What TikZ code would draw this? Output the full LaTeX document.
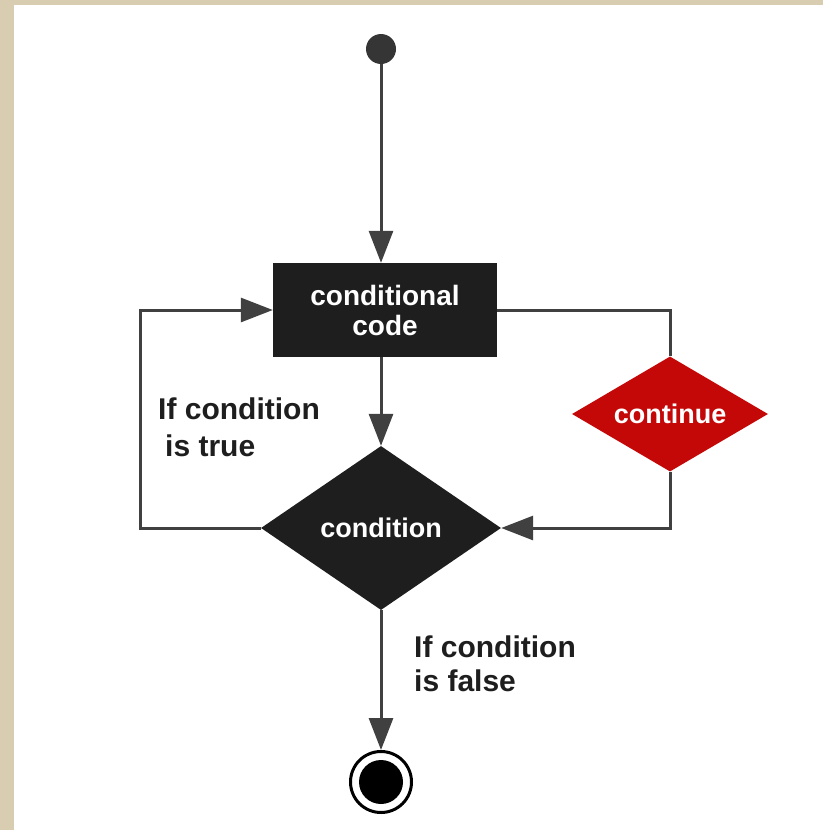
\documentclass[tikz,border=0pt]{standalone}
\usepackage{fontspec}
\setmainfont{Liberation Sans}
\usetikzlibrary{arrows.meta,shapes.geometric}
\definecolor{beige}{RGB}{216,205,176}
\definecolor{linec}{RGB}{64,64,64}
\definecolor{boxc}{RGB}{30,30,30}
\definecolor{redc}{RGB}{196,8,8}
\definecolor{labc}{RGB}{30,30,30}
\tikzset{
  conn/.style={draw=linec, line width=3pt},
  arr/.style={conn, -{Triangle[length=32pt,width=24pt]}},
  actbox/.style={rectangle, fill=boxc, text=white, inner sep=0pt,
    minimum width=224pt, minimum height=94pt, align=center,
    font={\bfseries\fontsize{28}{30}\selectfont}},
  decbox/.style={diamond, fill=boxc, text=white, inner sep=0pt, aspect=1.46,
    font={\bfseries\fontsize{27}{30}\selectfont}},
  labtext/.style={text=labc, inner sep=0pt, anchor=north west, align=left}
}
\begin{document}
\begin{tikzpicture}[x=1pt,y=-1pt]
\useasboundingbox (0,0) rectangle (823,830);
\fill[beige] (0,0) rectangle (823,830);
\fill[white] (14,5) rectangle (823,830);

\node[circle, fill=boxc!90!white, inner sep=0pt, minimum size=30pt] (start) at (381,49) {};
\node[actbox] (box) at (385,310) {conditional\\code};
\node[decbox, minimum width=240pt, minimum height=164pt] (cond) at (381,528) {condition};
\node[decbox, fill=redc, minimum width=196pt, minimum height=115pt] (cont) at (670,414) {continue};
\node[circle, draw=black, line width=3pt, fill=white, inner sep=0pt, minimum size=61pt] (end) at (381,782) {};
\node[circle, fill=black, inner sep=0pt, minimum size=44pt] (endin) at (end.center) {};

\node[labtext, font={\bfseries\fontsize{30}{37}\selectfont}] (ltrue) at (158,398) {If condition\\\hspace*{7pt}is true};
\node[labtext, font={\bfseries\fontsize{30}{34}\selectfont}] (lfalse) at (414,636) {If condition\\is false};

\coordinate (lc) at (140,528);

\draw[arr] (start) -- (start |- box.north);
\draw[arr] (cond.north |- box.south) -- (cond.north);
\draw[arr] (cond.south) -- (end.north);
\draw[arr] (cond.west) -- (lc) |- (box.west);
\draw[conn] (box.east) -| (cont.north);
\draw[arr] (cont.south) |- (cond.east);
\end{tikzpicture}
\end{document}
